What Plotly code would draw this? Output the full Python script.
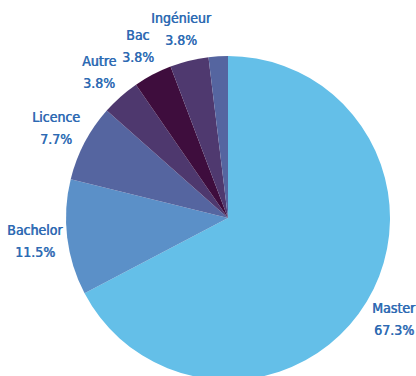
import math
import plotly.graph_objects as go

# Répartition par diplôme (effectifs)
labels = ["Master", "Bachelor", "Licence", "Autre", "Bac", "Ingénieur", "Non précisé"]
counts = [35, 6, 4, 2, 2, 2, 1]
colors = ["#64bfe8", "#5b90c8", "#5565a0", "#4e386e", "#3e0d3d", "#4f396f", "#5565a0"]
show_text = [True, True, True, True, True, True, False]

# Figure geometry
W, H = 416, 380
M_L, M_R, M_T, M_B = 40, 0, 56, 0
plot_w = W - M_L - M_R
plot_h = H - M_T - M_B
radius_px = min(plot_w, plot_h) / 2
label_radius = 1.2 * radius_px
line_gap = 11  # half the distance between the two lines of a label

fig = go.Figure(
    go.Pie(
        labels=labels,
        values=counts,
        sort=False,
        direction="clockwise",
        rotation=0,
        marker=dict(colors=colors, line=dict(width=0)),
        textinfo="none",
        showlegend=False,
        hoverinfo="label+percent",
    )
)

label_color = "#2d6ab3"
label_font = dict(
    family="DejaVu Sans Condensed, sans-serif", size=14, color=label_color,
    shadow=f"0.6px 0 0 {label_color}",  # slightly heavier strokes
)

# Slice labels centred on each slice's mid-angle, just outside the pie
total = sum(counts)
cum = 0
annotations = []
for lab, val, show in zip(labels, counts, show_text):
    mid = (cum + val / 2) / total * 2 * math.pi  # clockwise from 12 o'clock
    cum += val
    if not show:
        continue
    x = 0.5 + label_radius * math.sin(mid) / plot_w
    y = 0.5 + label_radius * math.cos(mid) / plot_h
    for txt, shift in ((lab, line_gap), (f"{val / total:.1%}", -line_gap)):
        annotations.append(dict(
            x=x, y=y, xref="paper", yref="paper", yshift=shift,
            text=txt, showarrow=False,
            xanchor="center", yanchor="middle", align="center",
            font=label_font,
        ))

fig.update_layout(
    width=W,
    height=H,
    margin=dict(l=M_L, r=M_R, t=M_T, b=M_B),
    paper_bgcolor="white",
    plot_bgcolor="white",
    annotations=annotations,
)

fig.write_html("out.html")
